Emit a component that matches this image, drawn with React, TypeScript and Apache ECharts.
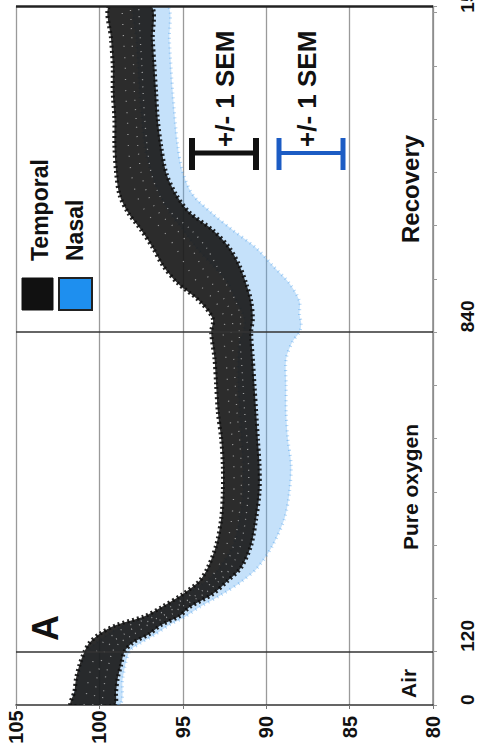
import React, { useEffect, useRef } from "react";
import * as echarts from "echarts";

// ---- data (time in s, SpO2-like value in %) ----
const tempTimes = [0, 30, 60, 90, 120, 140, 160, 180, 200, 220, 250, 280, 310, 360, 420, 480, 540, 600, 660, 720, 780, 840, 870, 910, 950, 990, 1030, 1070, 1110, 1150, 1200, 1260, 1320, 1380, 1440, 1500, 1575];
const tempHigh = [101.7, 101.5, 101.4, 101.2, 100.9, 100.6, 100.0, 99.0, 97.3, 96.3, 95.0, 94.0, 93.5, 93.0, 92.7, 92.6, 92.6, 92.7, 92.9, 93.0, 93.1, 93.3, 93.2, 94.0, 95.3, 96.2, 96.8, 97.5, 98.3, 98.8, 99.0, 99.1, 99.1, 99.2, 99.2, 99.3, 99.4];
const tempLow = [99.1, 99.0, 98.9, 98.7, 98.5, 98.0, 97.0, 96.3, 95.2, 94.6, 93.2, 92.3, 91.5, 90.9, 90.6, 90.4, 90.4, 90.5, 90.6, 90.7, 90.8, 90.9, 90.8, 90.9, 91.2, 91.6, 92.2, 93.2, 94.6, 95.4, 96.0, 96.3, 96.5, 96.6, 96.7, 96.8, 96.9];

const nasalTimes = [0, 60, 120, 140, 160, 180, 200, 220, 250, 280, 310, 360, 420, 480, 540, 600, 660, 720, 780, 820, 840, 860, 880, 910, 950, 990, 1030, 1070, 1110, 1150, 1200, 1260, 1380, 1500, 1575];
const nasalHigh = [101.5, 101.3, 100.8, 100.2, 99.5, 98.5, 97.0, 96.0, 94.8, 93.6, 92.8, 92.0, 91.6, 91.4, 91.4, 91.5, 91.6, 91.7, 91.7, 91.6, 91.4, 91.3, 91.4, 91.8, 92.3, 93.2, 94.2, 95.0, 95.8, 96.4, 96.9, 97.3, 97.6, 97.8, 97.9];
const nasalLow = [98.8, 98.6, 98.2, 97.5, 96.6, 95.8, 94.8, 94.0, 92.6, 91.4, 90.5, 89.6, 88.9, 88.6, 88.5, 88.7, 88.8, 88.8, 88.8, 88.4, 88.0, 87.9, 88.0, 88.0, 88.6, 89.6, 90.6, 92.0, 93.3, 94.4, 95.0, 95.3, 95.6, 95.8, 95.9];

const phaseBounds = [120, 840];
const timeTickLabels = [0, 120, 840, 1560];
const phaseNames = ["Air", "Pure oxygen", "Recovery"];
const seriesNames = ["Temporal", "Nasal"];

const FONT = '"Liberation Sans", Arial, sans-serif';

function band(name: string, times: number[], hi: number[], lo: number[], fill: string, fillOpacity: number, edge: string, edgeWidth: number, dash: number[], speckle: boolean, z: number) {
  return {
    type: "custom",
    name,
    coordinateSystem: "cartesian2d",
    z,
    silent: true,
    clip: true,
    encode: { x: 0, y: 1 },
    data: [[hi[0], times[0]]],
    renderItem: (params: any, api: any) => {
      const pts: number[][] = [];
      for (let i = 0; i < times.length; i++) pts.push(api.coord([hi[i], times[i]]));
      for (let i = times.length - 1; i >= 0; i--) pts.push(api.coord([lo[i], times[i]]));
      const children: any[] = [
        {
          type: "polygon",
          shape: { points: pts, smooth: 0.3 },
          style: { fill, opacity: fillOpacity, stroke: edge, lineWidth: edgeWidth, lineDash: dash },
        },
      ];
      if (speckle) {
        [0.3, 0.5, 0.7].forEach((f, k) => {
          const line = times.map((t, i) => api.coord([lo[i] + (hi[i] - lo[i]) * f, t]));
          children.push({
            type: "polyline",
            shape: { points: line, smooth: 0.3 },
            style: { stroke: "#ffffff", lineWidth: 1.3, lineDash: [1, 6 + k * 2], opacity: 0.55, fill: null },
          });
        });
      }
      return { type: "group", children };
    },
  };
}

function rotText(text: string, x: number, y: number, size: number, align = "left") {
  return {
    type: "text",
    x,
    y,
    rotation: Math.PI / 2,
    z: 50,
    style: { text, fontSize: size, fontWeight: "bold", fontFamily: FONT, fill: "#111", align, verticalAlign: "middle" },
  };
}

export default function App() {
  const ref = useRef<HTMLDivElement>(null);
  useEffect(() => {
    if (!ref.current) return;
    const chart = echarts.init(ref.current, null, { renderer: "svg" });
    const option: any = {
      animation: false,
      backgroundColor: "#fff",
      grid: { left: 16, right: 46, top: 6, bottom: 50, outerBoundsMode: "none", containLabel: false },
      xAxis: {
        type: "value",
        min: 80,
        max: 105,
        interval: 5,
        inverse: true,
        position: "bottom",
        axisLine: { show: true, onZero: false, lineStyle: { color: "#333", width: 1.5 } },
        axisTick: { show: true, length: 4, lineStyle: { color: "#777" } },
        axisLabel: {
          rotate: 90,
          margin: 22,
          align: "center",
          verticalAlign: "middle",
          fontSize: 20,
          fontWeight: "bold",
          fontFamily: FONT,
          color: "#111",
        },
        splitLine: { show: true, lineStyle: { color: "#9a9a9a", width: 1.3 } },
      },
      yAxis: {
        type: "value",
        min: 0,
        max: 1575,
        interval: 120,
        position: "right",
        axisLine: { show: true, onZero: false, lineStyle: { color: "#888", width: 1.5 } },
        axisTick: { show: true, length: 4, lineStyle: { color: "#999" } },
        axisLabel: {
          rotate: 90,
          margin: 34,
          align: "left",
          verticalAlign: "middle",
          fontSize: 19,
          fontWeight: "bold",
          fontFamily: FONT,
          color: "#111",
          formatter: (v: number) => (timeTickLabels.indexOf(v) >= 0 ? String(v) : ""),
        },
        splitLine: { show: false },
      },
      series: [
        band(seriesNames[1], nasalTimes, nasalHigh, nasalLow, "#5aaaf0", 0.35, "#1f86e6", 3, [1, 4], false, 2),
        band(seriesNames[0], tempTimes, tempHigh, tempLow, "#1a1a1a", 0.92, "#111", 4, [2, 3], true, 3),
        {
          type: "line",
          data: [],
          z: 5,
          markLine: {
            silent: true,
            symbol: "none",
            label: { show: false },
            lineStyle: { color: "#333", width: 1.5, type: "solid" },
            data: [
              ...phaseBounds.map((b) => ({ yAxis: b })),
              { yAxis: 1575, lineStyle: { color: "#222", width: 2.5, type: "solid" } },
            ],
          },
        },
      ],
      graphic: [
        rotText("A", 45, 628, 36, "center"),
        rotText(phaseNames[0], 408, 698, 21),
        rotText(phaseNames[1], 410, 550, 21),
        rotText(phaseNames[2], 410, 243, 24),
        rotText(seriesNames[0], 40, 261, 23),
        rotText(seriesNames[1], 75, 261, 23),
        { type: "rect", z: 50, shape: { x: 22, y: 278, width: 31, height: 32 }, style: { fill: "#111", stroke: "#111", lineWidth: 1 } },
        { type: "rect", z: 50, shape: { x: 59, y: 278, width: 33, height: 32 }, style: { fill: "#1e8fef", stroke: "#222", lineWidth: 2 } },
        rotText("+/- 1 SEM", 225, 147, 26),
        rotText("+/- 1 SEM", 307, 147, 26),
        { type: "line", z: 50, shape: { x1: 190, y1: 153, x2: 258, y2: 153 }, style: { stroke: "#111", lineWidth: 5 } },
        { type: "line", z: 50, shape: { x1: 192, y1: 138, x2: 192, y2: 170 }, style: { stroke: "#111", lineWidth: 6 } },
        { type: "line", z: 50, shape: { x1: 256, y1: 138, x2: 256, y2: 170 }, style: { stroke: "#111", lineWidth: 6 } },
        { type: "line", z: 50, shape: { x1: 277, y1: 153, x2: 345, y2: 153 }, style: { stroke: "#1c5cc4", lineWidth: 4 } },
        { type: "line", z: 50, shape: { x1: 279, y1: 138, x2: 279, y2: 170 }, style: { stroke: "#1c5cc4", lineWidth: 5 } },
        { type: "line", z: 50, shape: { x1: 343, y1: 138, x2: 343, y2: 170 }, style: { stroke: "#1c5cc4", lineWidth: 5 } },
      ],
    };
    chart.setOption(option);
    return () => chart.dispose();
  }, []);
  return <div ref={ref} style={{ position: "fixed", left: 0, top: 0, width: 479, height: 755, background: "#fff" }} />;
}
